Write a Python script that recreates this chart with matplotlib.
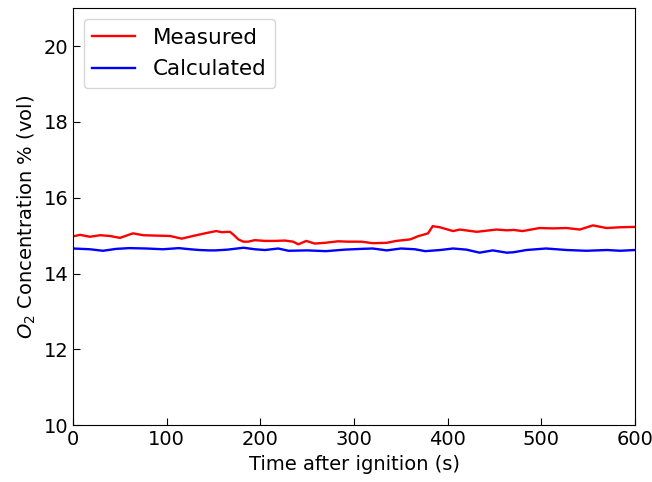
import matplotlib
matplotlib.use("Agg")
import matplotlib.pyplot as plt

t_meas = [0, 7.5, 18, 29, 39.5, 50, 57, 64, 75, 89, 103.5, 116, 128, 142.7, 153, 158.6, 167.5,
          171, 176.5, 181.8, 187, 194, 205, 215.6, 226, 235, 240.5, 249, 258, 269, 283, 294,
          308, 320, 335, 345, 360, 368, 379, 384, 391.6, 405.7, 413, 431, 452, 463, 470, 480,
          498, 512, 527, 541, 555, 569.6, 583.8, 600]
measured = [14.98, 15.02, 14.97, 15.01, 14.99, 14.94, 15.0, 15.06, 15.01, 15.0, 14.99, 14.92,
            14.99, 15.07, 15.12, 15.09, 15.1, 15.03, 14.9, 14.84, 14.84, 14.88, 14.86, 14.86,
            14.87, 14.84, 14.77, 14.86, 14.79, 14.81, 14.85, 14.84, 14.84, 14.80, 14.81, 14.86,
            14.9, 14.98, 15.06, 15.25, 15.22, 15.12, 15.16, 15.1, 15.16, 15.14, 15.15, 15.12,
            15.2, 15.19, 15.2, 15.16, 15.27, 15.2, 15.22, 15.23]

t_calc = [0, 18, 32, 46, 60, 78, 96, 113, 125, 135, 145, 152, 165, 182, 194, 205, 219, 230,
          250, 270, 290, 308, 320, 335, 350, 365, 376, 392, 405.7, 420, 434, 448, 463, 470,
          484, 505, 527, 548, 570, 584, 600]
calculated = [14.66, 14.64, 14.60, 14.65, 14.67, 14.66, 14.64, 14.67, 14.64, 14.62, 14.61,
              14.61, 14.63, 14.68, 14.64, 14.62, 14.66, 14.6, 14.61, 14.59, 14.63, 14.65,
              14.66, 14.61, 14.66, 14.64, 14.59, 14.62, 14.66, 14.63, 14.55, 14.61, 14.55,
              14.56, 14.62, 14.66, 14.62, 14.60, 14.62, 14.60, 14.62]

x_ticks = [0, 100, 200, 300, 400, 500, 600]
y_ticks = [10, 12, 14, 16, 18, 20]

fig = plt.figure(figsize=(6.52, 4.82), dpi=100)
ax = fig.add_axes([0.112, 0.118, 0.862, 0.865])
ax.plot(t_meas, measured, color="red", lw=1.7, label="Measured")
ax.plot(t_calc, calculated, color="blue", lw=1.7, label="Calculated")
ax.set_xlim(0, 600)
ax.set_ylim(10, 21)
ax.set_xticks(x_ticks)
ax.set_yticks(y_ticks)
ax.tick_params(direction="in", labelsize=14, length=5)
ax.set_xlabel("Time after ignition (s)", fontsize=14)
ax.set_ylabel("$O_2$ Concentration % (vol)", fontsize=14)
ax.legend(loc="upper left", fontsize=15.5, labelspacing=0.55)
fig.savefig("out.png", dpi=100)
